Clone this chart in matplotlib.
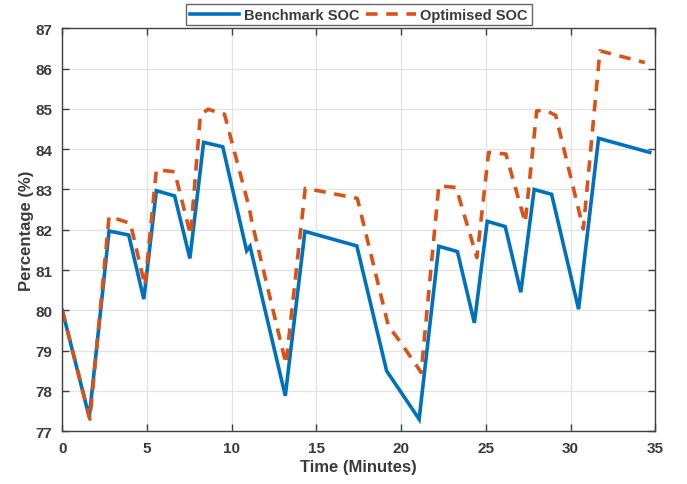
import matplotlib
matplotlib.use('Agg')
import matplotlib.pyplot as plt

# Benchmark SOC (solid blue)
bench_time = [0.0, 1.59, 2.76, 3.92, 4.81, 5.55, 6.63, 7.53, 8.34, 9.47,
              10.88, 11.08, 13.16, 14.32, 17.38, 19.14, 21.06, 22.22, 23.32,
              24.32, 25.08, 26.14, 27.06, 27.85, 28.88, 30.47, 31.65, 34.67]
bench_soc = [80.0, 77.35, 81.97, 81.87, 80.28, 82.97, 82.84, 81.29, 84.17, 84.06,
             81.48, 81.59, 77.88, 81.96, 81.60, 78.50, 77.30, 81.59, 81.46,
             79.69, 82.21, 82.08, 80.45, 83.00, 82.88, 80.03, 84.27, 83.92]

# Optimised SOC (dashed orange)
opt_time = [0.0, 1.63, 2.76, 4.02, 4.88, 5.55, 6.63, 7.57, 8.15, 8.6, 9.57,
            11.0, 11.24, 13.2, 14.34, 17.41, 19.24, 19.96, 21.18, 22.22, 23.24,
            24.47, 25.16, 26.18, 27.32, 28.0, 28.5, 29.12, 30.75, 31.73, 34.38]
opt_soc = [80.0, 77.30, 82.33, 82.16, 80.61, 83.49, 83.44, 81.87, 84.85, 84.99, 84.87,
           82.6, 82.10, 78.67, 83.03, 82.78, 79.62, 79.21, 78.46, 83.09, 83.05,
           81.31, 83.92, 83.88, 82.18, 84.95, 84.97, 84.84, 82.02, 86.44, 86.15]

x_ticks = [0, 5, 10, 15, 20, 25, 30, 35]
y_ticks = [77, 78, 79, 80, 81, 82, 83, 84, 85, 86, 87]

TEXT = '#3a3a3a'
plt.rcParams['font.family'] = ['Liberation Sans', 'DejaVu Sans']
plt.rcParams['font.weight'] = 'bold'

fig = plt.figure(figsize=(6.87, 4.85), dpi=100)
ax = fig.add_axes([0.0907, 0.1087, 0.8632, 0.8309])

# Plot both SOC curves
ax.plot(bench_time, bench_soc, color='#0072BD', linewidth=2.6,
        label='Benchmark SOC', solid_joinstyle='miter')
ax.plot(opt_time, opt_soc, color='#D95319', linewidth=2.6,
        linestyle=(0, (3.2, 2.4)), label='Optimised SOC')

ax.set_xlim(0, 35)
ax.set_ylim(77, 87)
ax.set_xticks(x_ticks)
ax.set_yticks(y_ticks)
ax.grid(True, color='#e3e3e3', linewidth=0.9)
ax.set_axisbelow(True)

ax.tick_params(direction='in', length=5, width=1, colors='#404040',
               labelcolor=TEXT, top=True, right=True, labelsize=11)
ax.tick_params(axis='x', pad=7)
ax.tick_params(axis='y', pad=7)
for lab in ax.get_xticklabels() + ax.get_yticklabels():
    lab.set_fontweight('bold')
for sp in ax.spines.values():
    sp.set_color('#404040')
    sp.set_linewidth(1.0)

ax.set_xlabel('Time (Minutes)', fontsize=12, fontweight='bold', color=TEXT, labelpad=3)
ax.set_ylabel('Percentage (%)', fontsize=12, fontweight='bold', color=TEXT, labelpad=1)

# Legend above the axes, centred
leg = ax.legend(loc='lower center', bbox_to_anchor=(0.5, 1.0), ncol=2,
                fontsize=10.5, frameon=True, fancybox=False, borderpad=0.25,
                handlelength=3.4, handletextpad=0.3, columnspacing=0.5,
                borderaxespad=0.2)
leg.get_frame().set_edgecolor('#404040')
leg.get_frame().set_linewidth(1.0)
for t in leg.get_texts():
    t.set_color(TEXT)
    t.set_fontweight('bold')

fig.savefig('out.png', dpi=100)
